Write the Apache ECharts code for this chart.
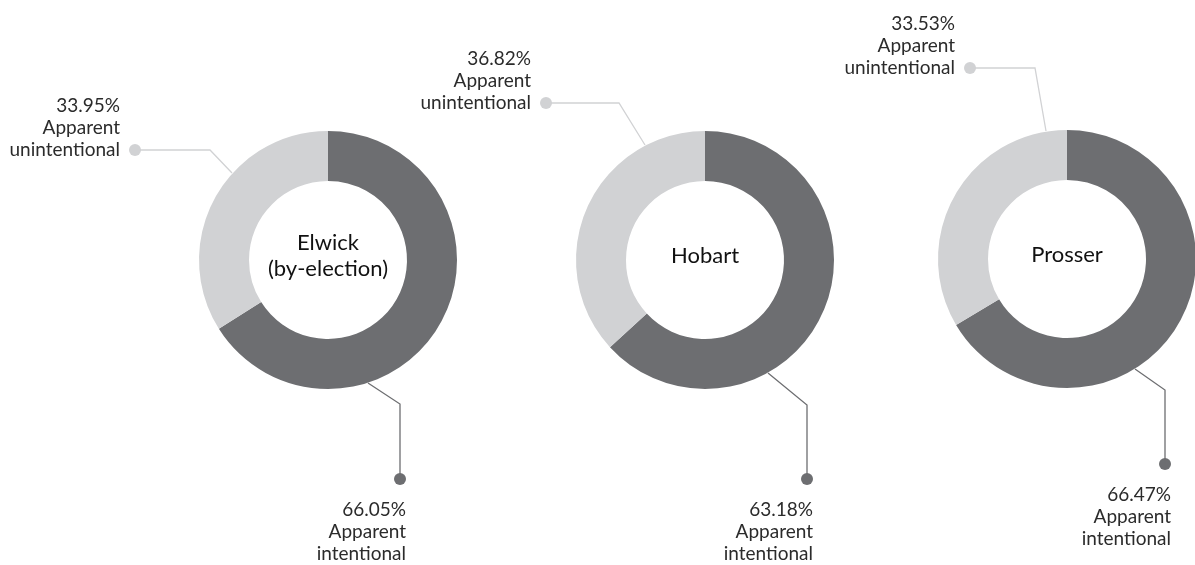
<!DOCTYPE html>
<html>
<head>
<meta charset="utf-8">
<script src="https://cdn.jsdelivr.net/npm/echarts@6/dist/echarts.min.js"></script>
<style>
  html, body { margin: 0; padding: 0; background: #fff; }
  #main { width: 1195px; height: 565px; }
</style>
</head>
<body>
<div id="main"></div>
<script>
  // data
  var regions = ['Elwick\n(by-election)', 'Hobart', 'Prosser'];
  var intentional = [66.05, 63.18, 66.47];
  var unintentional = [33.95, 36.82, 33.53];
  var segmentNames = ['Apparent\nintentional', 'Apparent\nunintentional'];

  var DARK = '#6d6e71';
  var LIGHT = '#d1d2d4';
  var FONT = 'Lato';

  // layout of each donut and its leader lines (pixels)
  var centers = [[328, 260], [705, 260], [1067, 259]];
  var leaders = [
    [ // Elwick
      { ring: [368, 383], elbow: [400, 404], dot: [400, 479] },
      { ring: [232, 173], elbow: [210, 150], dot: [135, 150] }
    ],
    [ // Hobart
      { ring: [768, 373], elbow: [807, 405], dot: [807, 479] },
      { ring: [645, 145], elbow: [619, 103], dot: [546, 103] }
    ],
    [ // Prosser
      { ring: [1135, 369], elbow: [1165, 390], dot: [1165, 464] },
      { ring: [1046, 131], elbow: [1035, 68], dot: [970, 68] }
    ]
  ];

  var myChart = echarts.init(document.getElementById('main'));

  var series = regions.map(function (r, i) {
    return {
      type: 'pie',
      center: centers[i],
      radius: [79, 129],
      startAngle: 90,
      silent: true,
      avoidLabelOverlap: false,
      data: [
        { name: segmentNames[0], value: intentional[i], itemStyle: { color: DARK }, labelLine: { lineStyle: { color: DARK } } },
        { name: segmentNames[1], value: unintentional[i], itemStyle: { color: LIGHT }, labelLine: { lineStyle: { color: LIGHT } } }
      ],
      label: {
        show: true,
        formatter: function (p) {
          return p.value.toFixed(2) + '%\n' + p.name;
        },
        fontFamily: FONT,
        fontSize: 19,
        lineHeight: 22,
        color: '#2b2b2b',
        align: 'right'
      },
      labelLine: { show: true, lineStyle: { width: 1.3 } },
      labelLayout: function (p) {
        var L = leaders[i][p.dataIndex];
        if (p.dataIndex === 0) {
          // intentional: text under the dot
          return {
            x: L.dot[0] + 6, y: L.dot[1] + 20,
            align: 'right', verticalAlign: 'top',
            labelLinePoints: [L.ring, L.elbow, L.dot]
          };
        }
        // unintentional: text left of the dot
        return {
          x: L.dot[0] - 15, y: L.dot[1] + 11,
          align: 'right', verticalAlign: 'bottom',
          labelLinePoints: [L.ring, L.elbow, L.dot]
        };
      }
    };
  });

  var graphics = [];
  regions.forEach(function (r, i) {
    graphics.push({
      type: 'text',
      x: centers[i][0], y: centers[i][1] - 4,
      silent: true,
      style: {
        text: r,
        fontFamily: FONT,
        fontSize: 22,
        lineHeight: 26,
        fill: '#111',
        textAlign: 'center',
        textVerticalAlign: 'middle'
      }
    });
    leaders[i].forEach(function (L, k) {
      graphics.push({
        type: 'circle',
        silent: true,
        shape: { cx: L.dot[0], cy: L.dot[1], r: 6 },
        style: { fill: k === 0 ? DARK : LIGHT }
      });
    });
  });

  myChart.setOption({
    animation: false,
    series: series,
    graphic: graphics
  });
</script>
</body>
</html>
